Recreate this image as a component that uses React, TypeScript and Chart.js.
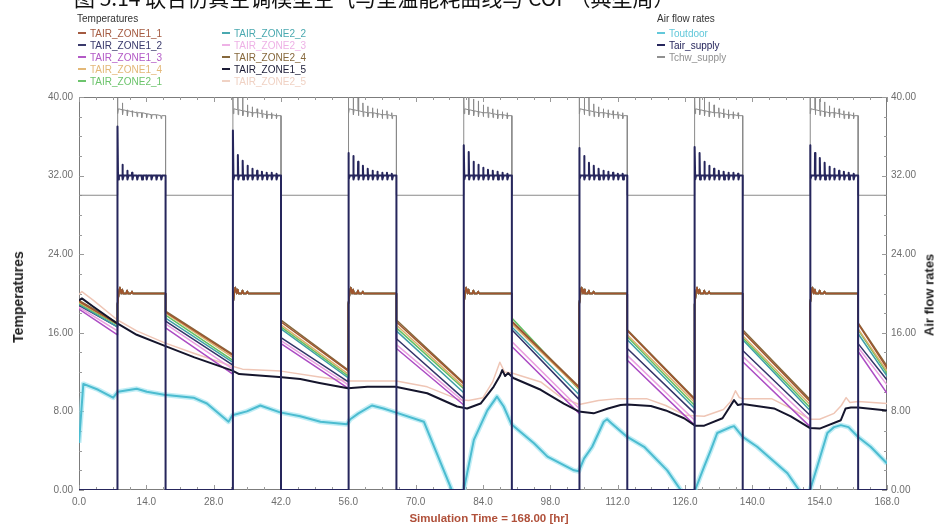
import React, { useEffect, useRef } from "react";
import { Chart, registerables } from "chart.js";

Chart.register(...registerables);

// ---- schedule (hours) ----
const ON_STARTS = [8, 32, 56, 80, 104, 128, 152];
const ON_ENDS = [18, 42, 66, 90, 114, 138, 162];
const OFF_STARTS = [0, 18, 42, 66, 90, 114, 138, 162];
const OFF_ENDS = [8, 32, 56, 80, 104, 128, 152, 168];

const X_TICKS = [0, 14, 28, 42, 56, 70, 84, 98, 112, 126, 140, 154, 168];
const Y_TICKS = [0, 8, 16, 24, 32, 40];

// ---- zone temperatures: value at start / end of each unconditioned period ----
const TAIR_ZONE2_4_START = [19.3, 18.2, 17.3, 17.3, 17.2, 16.3, 16.3, 17.0];
const TAIR_ZONE2_4_END = [17.0, 13.8, 12.2, 10.9, 10.5, 9.3, 9.2, 12.6];
const TAIR_ZONE1_1_START = [19.2, 18.1, 17.1, 17.1, 17.1, 16.2, 16.1, 16.9];
const TAIR_ZONE1_1_END = [16.9, 13.7, 12.1, 10.8, 10.4, 9.2, 9.0, 12.4];
const TAIR_ZONE1_4_START = [19.1, 18.0, 16.8, 16.8, 16.9, 15.8, 15.7, 16.4];
const TAIR_ZONE1_4_END = [16.9, 13.5, 11.8, 10.5, 10.3, 8.9, 8.7, 12.1];
const TAIR_ZONE2_1_START = [19.0, 17.8, 16.6, 16.5, 17.5, 15.6, 15.5, 16.3];
const TAIR_ZONE2_1_END = [16.8, 13.2, 11.6, 10.3, 10.2, 8.6, 8.4, 11.9];
const TAIR_ZONE2_2_START = [18.9, 17.5, 16.4, 16.2, 16.6, 15.3, 15.3, 15.9];
const TAIR_ZONE2_2_END = [16.6, 13.0, 11.4, 9.9, 9.7, 8.3, 8.1, 11.6];
const TAIR_ZONE1_2_START = [18.8, 17.2, 15.5, 15.4, 16.3, 14.4, 14.2, 14.9];
const TAIR_ZONE1_2_END = [16.6, 12.7, 11.0, 9.3, 9.2, 7.8, 7.6, 11.2];
const TAIR_ZONE2_3_START = [18.6, 16.9, 15.2, 14.8, 15.1, 13.7, 13.6, 14.5];
const TAIR_ZONE2_3_END = [16.2, 12.3, 10.7, 9.0, 8.3, 7.1, 7.1, 10.7];
const TAIR_ZONE1_3_START = [18.4, 16.5, 14.9, 14.4, 14.6, 13.2, 13.05, 14.1];
const TAIR_ZONE1_3_END = [15.8, 11.8, 10.35, 8.65, 7.8, 6.6, 6.45, 9.85];

// conditioned-period zone response (hours after start, value)
const ZONE_ON_OFFSETS = [0, 0.3, 0.5, 0.8, 1.0, 1.2, 1.8, 2.0, 2.2, 2.8, 3.0, 3.2];
const ZONE_ON_VALUES = [18.9, 20.1, 20.6, 20.0, 20.4, 20.0, 20.0, 20.3, 20.0, 20.0, 20.2, 20.0];
const ZONE_ON_END = 20.0;

// free-running zones
const TAIR_ZONE1_5 = [
  [0, 19.3], [0.6, 19.5], [3, 18.65], [7.8, 17.0], [12, 15.8], [17.7, 14.7], [24, 13.5],
  [31.9, 12.15], [33.3, 11.8], [41.6, 11.5], [46, 11.3], [50, 10.9], [55.9, 10.35], [60, 10.5],
  [65.8, 10.5], [72.4, 9.85], [78.6, 8.5], [80.7, 8.3], [83.5, 8.8], [86.2, 10.5], [87.5, 11.6],
  [88, 12.2], [88.6, 11.6], [89.2, 11.9], [90.3, 11.4], [96, 10.2], [100.8, 8.8], [103.9, 8.0],
  [107, 7.8], [110, 8.3], [112.6, 8.65], [114, 8.7], [118.9, 8.55], [122, 8.1], [125.8, 7.3],
  [128.1, 6.55], [130, 6.55], [133.8, 7.3], [135.1, 8.3], [136.2, 9.15], [137, 8.65], [138, 8.75],
  [144.5, 8.3], [148, 7.5], [152, 6.3], [154, 6.25], [158.4, 7.1], [159.4, 8.3], [160.5, 8.4],
  [162, 8.4], [168, 8.1],
];
const TAIR_ZONE2_5 = [
  [0, 19.9], [0.6, 20.2], [3, 19.3], [8, 17.3], [12, 16.2], [17.7, 15.0], [24, 13.9], [31.9, 12.6],
  [34, 12.3], [42, 12.1], [50, 11.5], [56, 11.1], [66, 11.1], [72.4, 10.5], [79, 9.2], [81, 9.1],
  [84, 9.4], [86, 11.0], [87.5, 13.0], [88.5, 12.0], [90, 11.9], [96, 11.0], [100, 9.5], [104, 8.7],
  [108, 9.1], [112, 9.3], [118, 9.3], [122, 8.6], [126, 7.6], [130, 7.5], [134, 8.2], [135.5, 9.0],
  [136.5, 10.1], [137.3, 9.4], [138, 9.3], [144, 9.3], [148, 8.3], [152, 7.2], [154, 7.2],
  [157, 7.8], [158.5, 8.6], [159.5, 9.4], [160.3, 8.9], [162, 9.0], [168, 8.8],
];

// outdoor temperature
const TOUTDOOR = [
  [0, 4.8], [0.9, 10.8], [4, 10.2], [7.1, 9.4], [8.1, 10.0], [12, 10.3], [14.1, 10.0], [17.7, 9.7],
  [23.8, 9.4], [26.6, 8.8], [31.1, 6.95], [31.9, 7.6], [34.9, 8.0], [37.7, 8.6], [41.8, 7.9],
  [46, 7.5], [50.2, 6.95], [55.7, 6.7], [56.4, 7.2], [58.1, 7.8], [60.9, 8.6], [63.3, 8.3],
  [65.8, 7.9], [71.7, 6.95], [77.5, 0], [78.5, -1], [79.9, -1], [80, 0], [82.1, 5.1], [84.9, 8.1],
  [86.9, 9.5], [88.3, 8.5], [89.9, 6.7], [94.6, 4.75], [97.4, 3.4], [102.9, 2.0], [103.9, 1.9],
  [105, 3.2], [106.7, 4.4], [109.1, 6.95], [109.8, 7.2], [110.7, 6.8], [114, 5.4], [117.5, 4.4],
  [122.3, 2.0], [125.1, 0], [126, -1], [128, -1], [128.1, 0], [130, 2.4], [131.4, 4.1],
  [132.7, 5.8], [135.5, 6.4], [136.2, 6.5], [138, 5.4], [141, 4.4], [147.3, 1.7], [149.7, 0],
  [150.5, -1], [151.9, -1], [152, 0], [153.5, 2.4], [155.6, 5.8], [157, 6.4], [158.4, 6.6],
  [160, 6.4], [162, 5.4], [164.6, 4.4], [168, 2.7],
];

// supply air: off value, base level, hourly peaks in each conditioned period
const TAIR_SUPPLY_OFF = 0;
const TAIR_SUPPLY_BASE = 32.0;
const TAIR_SUPPLY_DIP = 31.6;
const TAIR_SUPPLY_PEAKS = [
  [37.0, 33.1, 32.5, 32.3, 32.0, 32.0, 32.0, 32.0, 32.0, 32.0],
  [36.6, 34.1, 33.5, 33.0, 32.7, 32.5, 32.4, 32.3, 32.3, 32.2],
  [34.3, 34.0, 33.4, 33.0, 32.7, 32.5, 32.4, 32.3, 32.3, 32.2],
  [35.1, 34.4, 33.4, 33.1, 32.8, 32.6, 32.5, 32.4, 32.3, 32.2],
  [34.8, 34.0, 33.3, 33.0, 32.7, 32.5, 32.4, 32.3, 32.2, 32.2],
  [34.9, 34.3, 33.4, 33.0, 32.7, 32.5, 32.4, 32.3, 32.3, 32.2],
  [35.1, 34.3, 33.8, 33.3, 32.9, 32.7, 32.5, 32.4, 32.3, 32.2],
];

// chilled water supply
const TCHW_SUPPLY_OFF = 30.0;
const TCHW_SUPPLY_BASE = [38.8, 38.7, 38.6, 38.5, 38.4, 38.4, 38.3, 38.2, 38.2, 38.1];
const TCHW_SUPPLY_TROUGH = [38.3, 38.2, 38.1, 38.0, 38.0, 37.9, 37.9, 37.8, 37.8, 37.8];
const TCHW_SUPPLY_PEAKS = [
  [39.9, 39.4, 38.7, 38.6, 38.5, 38.4, 38.3, 38.2, 38.2, 38.1],
  [39.9, 39.9, 39.9, 39.2, 39.0, 38.8, 38.7, 38.6, 38.4, 38.3],
  [40.0, 40.0, 39.9, 39.4, 39.1, 38.9, 38.8, 38.7, 38.6, 38.4],
  [40.0, 40.0, 39.8, 39.6, 39.2, 39.0, 38.8, 38.7, 38.5, 38.4],
  [40.0, 39.9, 39.9, 39.3, 39.0, 38.8, 38.7, 38.6, 38.5, 38.4],
  [40.0, 40.0, 39.9, 39.5, 39.2, 38.9, 38.8, 38.7, 38.5, 38.4],
  [40.0, 40.0, 39.8, 39.5, 39.1, 38.9, 38.8, 38.6, 38.5, 38.4],
];

type P = { x: number; y: number };
const pairs = (a: number[][]): P[] => a.map(([x, y]) => ({ x, y }));

function zonePoints(starts: number[], ends: number[]): P[] {
  const pts: P[] = [];
  for (let k = 0; k < OFF_STARTS.length; k++) {
    pts.push({ x: OFF_STARTS[k], y: starts[k] });
    pts.push({ x: OFF_ENDS[k], y: ends[k] });
    if (k < ON_STARTS.length) {
      ZONE_ON_OFFSETS.forEach((o, i) => pts.push({ x: ON_STARTS[k] + o, y: ZONE_ON_VALUES[i] }));
      pts.push({ x: ON_ENDS[k], y: ZONE_ON_END });
    }
  }
  return pts;
}

function supplyPoints(): P[] {
  const pts: P[] = [{ x: 0, y: TAIR_SUPPLY_OFF }];
  ON_STARTS.forEach((s, k) => {
    pts.push({ x: s, y: TAIR_SUPPLY_OFF });
    TAIR_SUPPLY_PEAKS[k].forEach((pk, i) => {
      const t = s + i;
      if (i > 0) pts.push({ x: t, y: TAIR_SUPPLY_BASE });
      pts.push({ x: t + (i > 0 ? 0.03 : 0), y: pk });
      pts.push({ x: t + 0.12, y: TAIR_SUPPLY_DIP });
      pts.push({ x: t + 0.3, y: TAIR_SUPPLY_BASE });
    });
    pts.push({ x: ON_ENDS[k], y: TAIR_SUPPLY_BASE });
    pts.push({ x: ON_ENDS[k], y: TAIR_SUPPLY_OFF });
  });
  pts.push({ x: 168, y: TAIR_SUPPLY_OFF });
  return pts;
}

function chwPoints(): P[] {
  const pts: P[] = [{ x: 0, y: TCHW_SUPPLY_OFF }];
  ON_STARTS.forEach((s, k) => {
    pts.push({ x: s, y: TCHW_SUPPLY_OFF });
    TCHW_SUPPLY_PEAKS[k].forEach((pk, i) => {
      const t = s + i;
      if (i > 0) pts.push({ x: t, y: TCHW_SUPPLY_BASE[i] });
      pts.push({ x: t + (i > 0 ? 0.03 : 0), y: pk });
      pts.push({ x: t + 0.08, y: TCHW_SUPPLY_TROUGH[i] });
      pts.push({ x: t + 0.2, y: TCHW_SUPPLY_BASE[i] });
    });
    pts.push({ x: ON_ENDS[k], y: TCHW_SUPPLY_BASE[9] });
    pts.push({ x: ON_ENDS[k], y: TCHW_SUPPLY_OFF });
  });
  pts.push({ x: 168, y: TCHW_SUPPLY_OFF });
  return pts;
}

const LEGEND_TEMP = [
  ["TAIR_ZONE1_1", "#a45a40"],
  ["TAIR_ZONE1_2", "#3a3a6c"],
  ["TAIR_ZONE1_3", "#b35ac6"],
  ["TAIR_ZONE1_4", "#e3b878"],
  ["TAIR_ZONE2_1", "#6cc46c"],
  ["TAIR_ZONE2_2", "#4aa9b0"],
  ["TAIR_ZONE2_3", "#eeb2e6"],
  ["TAIR_ZONE2_4", "#86683c"],
  ["TAIR_ZONE1_5", "#1c1c36"],
  ["TAIR_ZONE2_5", "#f0d2c4"],
];
const LEGEND_AIR = [
  ["Toutdoor", "#62c8da"],
  ["Tair_supply", "#26265c"],
  ["Tchw_supply", "#909090"],
];

const col = (name: string) => (LEGEND_TEMP.concat(LEGEND_AIR).find((e) => e[0] === name) as string[])[1];

const TICK_FONT = { family: "'Liberation Sans', Arial, sans-serif", size: 10 };
const TICK_COLOR = "#6e6e6e";

const framePlugin = {
  id: "frame",
  beforeDatasetsDraw(chart: any) {
    const { ctx, chartArea: a, scales } = chart;
    ctx.save();
    ctx.strokeStyle = "#7c7c7c";
    ctx.lineWidth = 1;
    ctx.strokeRect(a.left + 0.5, a.top + 0.5, a.right - a.left - 1, a.bottom - a.top - 1);
    ctx.strokeStyle = "#9a9a9a";
    for (let v = 0; v <= 40; v += 2) {
      const y = Math.round(scales.y.getPixelForValue(v)) + 0.5;
      const len = v % 8 === 0 ? 5 : 3;
      ctx.beginPath();
      ctx.moveTo(a.left, y); ctx.lineTo(a.left + len, y);
      ctx.moveTo(a.right, y); ctx.lineTo(a.right - len, y);
      ctx.stroke();
    }
    for (let h = 0; h <= 168; h += 3.5) {
      const x = Math.round(scales.x.getPixelForValue(h)) + 0.5;
      const len = h % 14 === 0 ? 5 : 3;
      ctx.beginPath();
      ctx.moveTo(x, a.bottom); ctx.lineTo(x, a.bottom - len);
      ctx.moveTo(x, a.top); ctx.lineTo(x, a.top + len);
      ctx.stroke();
    }
    ctx.restore();
  },
};

export default function App() {
  const ref = useRef<HTMLCanvasElement | null>(null);
  useEffect(() => {
    document.body.style.margin = "0";
    const line = (label: string, data: P[], color: string, width: number, axis = "y", extra: any = {}) => ({
      label, data, borderColor: color, backgroundColor: color, borderWidth: width, yAxisID: axis,
      pointRadius: 0, tension: 0, fill: false, borderJoinStyle: "round", ...extra,
    });
    const chart = new Chart(ref.current as HTMLCanvasElement, {
      type: "line",
      data: {
        datasets: [
          line("Tair_supply", supplyPoints(), "#26265c", 2, "y1"),
          line("TAIR_ZONE1_5", pairs(TAIR_ZONE1_5), "#15152c", 2),
          line("TAIR_ZONE1_1", zonePoints(TAIR_ZONE1_1_START, TAIR_ZONE1_1_END), "#a0552f", 1.5),
          line("TAIR_ZONE2_4", zonePoints(TAIR_ZONE2_4_START, TAIR_ZONE2_4_END), "#86683c", 1.5),
          line("TAIR_ZONE1_4", zonePoints(TAIR_ZONE1_4_START, TAIR_ZONE1_4_END), "#dcb06a", 1.5),
          line("TAIR_ZONE2_1", zonePoints(TAIR_ZONE2_1_START, TAIR_ZONE2_1_END), "#62c062", 1.5),
          line("TAIR_ZONE2_2", zonePoints(TAIR_ZONE2_2_START, TAIR_ZONE2_2_END), "#3f9ea6", 1.5),
          line("TAIR_ZONE1_2", zonePoints(TAIR_ZONE1_2_START, TAIR_ZONE1_2_END), "#34346a", 1.5),
          line("TAIR_ZONE2_3", zonePoints(TAIR_ZONE2_3_START, TAIR_ZONE2_3_END), "#e9a0e0", 1.5),
          line("TAIR_ZONE1_3", zonePoints(TAIR_ZONE1_3_START, TAIR_ZONE1_3_END), "#ac4cc4", 1.5),
          line("Toutdoor", pairs(TOUTDOOR), "#4cbcd0", 2, "y1"),
          line("Toutdoor_halo", pairs(TOUTDOOR), "rgba(150,225,238,0.6)", 5, "y1"),
          line("TAIR_ZONE2_5", pairs(TAIR_ZONE2_5), "#efc6b6", 1.5),
          line("Tchw_supply", chwPoints(), "#8a8a8a", 1, "y1"),
        ],
      },
      options: {
        animation: false,
        responsive: false,
        maintainAspectRatio: false,
        layout: { padding: { top: 97, left: 0, right: 0, bottom: 0 } },
        plugins: { legend: { display: false }, tooltip: { enabled: false }, title: { display: false } },
        scales: {
          x: {
            type: "linear", min: 0, max: 168,
            afterBuildTicks: (s: any) => { s.ticks = X_TICKS.map((v) => ({ value: v })); },
            afterFit: (s: any) => { s.height = 36; },
            ticks: { callback: (v: any) => Number(v).toFixed(1), color: TICK_COLOR, font: TICK_FONT, padding: 6, maxRotation: 0, autoSkip: false },
            grid: { display: false, drawTicks: false },
            border: { display: false },
          },
          y: {
            type: "linear", position: "left", min: 0, max: 40,
            afterBuildTicks: (s: any) => { s.ticks = Y_TICKS.map((v) => ({ value: v })); },
            afterFit: (s: any) => { s.width = 79; },
            ticks: { callback: (v: any) => Number(v).toFixed(2), color: TICK_COLOR, font: TICK_FONT, padding: 6 },
            grid: { display: false, drawTicks: false },
            border: { display: false },
          },
          y1: {
            type: "linear", position: "right", min: 0, max: 40,
            afterBuildTicks: (s: any) => { s.ticks = Y_TICKS.map((v) => ({ value: v })); },
            afterFit: (s: any) => { s.width = 48; },
            ticks: { callback: (v: any) => Number(v).toFixed(2), color: TICK_COLOR, font: TICK_FONT, padding: 4 },
            grid: { display: false, drawTicks: false },
            border: { display: false },
          },
        },
      } as any,
      plugins: [framePlugin],
    });
    return () => chart.destroy();
  }, []);

  const legendFont = "'Liberation Sans Narrow', 'Liberation Sans', Arial, sans-serif";
  const entry = (name: string, x: number, y: number) => (
    <div key={name} style={{ position: "absolute", left: x, top: y, height: 12, display: "flex", alignItems: "center", fontFamily: legendFont, fontSize: 10, color: col(name), whiteSpace: "nowrap" }}>
      <span style={{ display: "inline-block", width: 8, height: 2, background: col(name), marginRight: 4 }} />
      {name}
    </div>
  );

  return (
    <div style={{ position: "absolute", left: 0, top: 0, width: 935, height: 526, overflow: "hidden", background: "#fff" }}>
      <canvas ref={ref} width={935} height={526} style={{ position: "absolute", left: 0, top: 0 }} />
      <div style={{ position: "absolute", left: 74, top: -18, fontFamily: "'Noto Sans CJK SC', sans-serif", fontSize: 21, color: "#111", whiteSpace: "nowrap" }}>
        图 5.14 联合仿真空调模型空气与室温能耗曲线与 COP（典型周）
      </div>
      <div style={{ position: "absolute", left: 77, top: 13, fontFamily: legendFont, fontSize: 10, color: "#333" }}>Temperatures</div>
      {LEGEND_TEMP.slice(0, 5).map(([n], i) => entry(n, 78, 27 + i * 12))}
      {LEGEND_TEMP.slice(5).map(([n], i) => entry(n, 222, 27 + i * 12))}
      <div style={{ position: "absolute", left: 657, top: 13, fontFamily: legendFont, fontSize: 10, color: "#333" }}>Air flow rates</div>
      {LEGEND_AIR.map(([n], i) => entry(n, 657, 27 + i * 12))}
      <div style={{ position: "absolute", left: 18, top: 297, transform: "translate(-50%, -50%) rotate(-90deg)", fontFamily: "'Liberation Sans', Arial, sans-serif", fontWeight: "bold", fontSize: 14, color: "#222", whiteSpace: "nowrap" }}>Temperatures</div>
      <div style={{ position: "absolute", left: 929, top: 295, transform: "translate(-50%, -50%) rotate(-90deg)", fontFamily: "'Liberation Sans', Arial, sans-serif", fontWeight: "bold", fontSize: 13, color: "#222", whiteSpace: "nowrap" }}>Air flow rates</div>
      <div style={{ position: "absolute", left: 489, top: 518, transform: "translate(-50%, -50%)", fontFamily: "'Liberation Sans', Arial, sans-serif", fontWeight: "bold", fontSize: 11.5, color: "#b0503a", whiteSpace: "nowrap" }}>Simulation Time = 168.00 [hr]</div>
    </div>
  );
}
